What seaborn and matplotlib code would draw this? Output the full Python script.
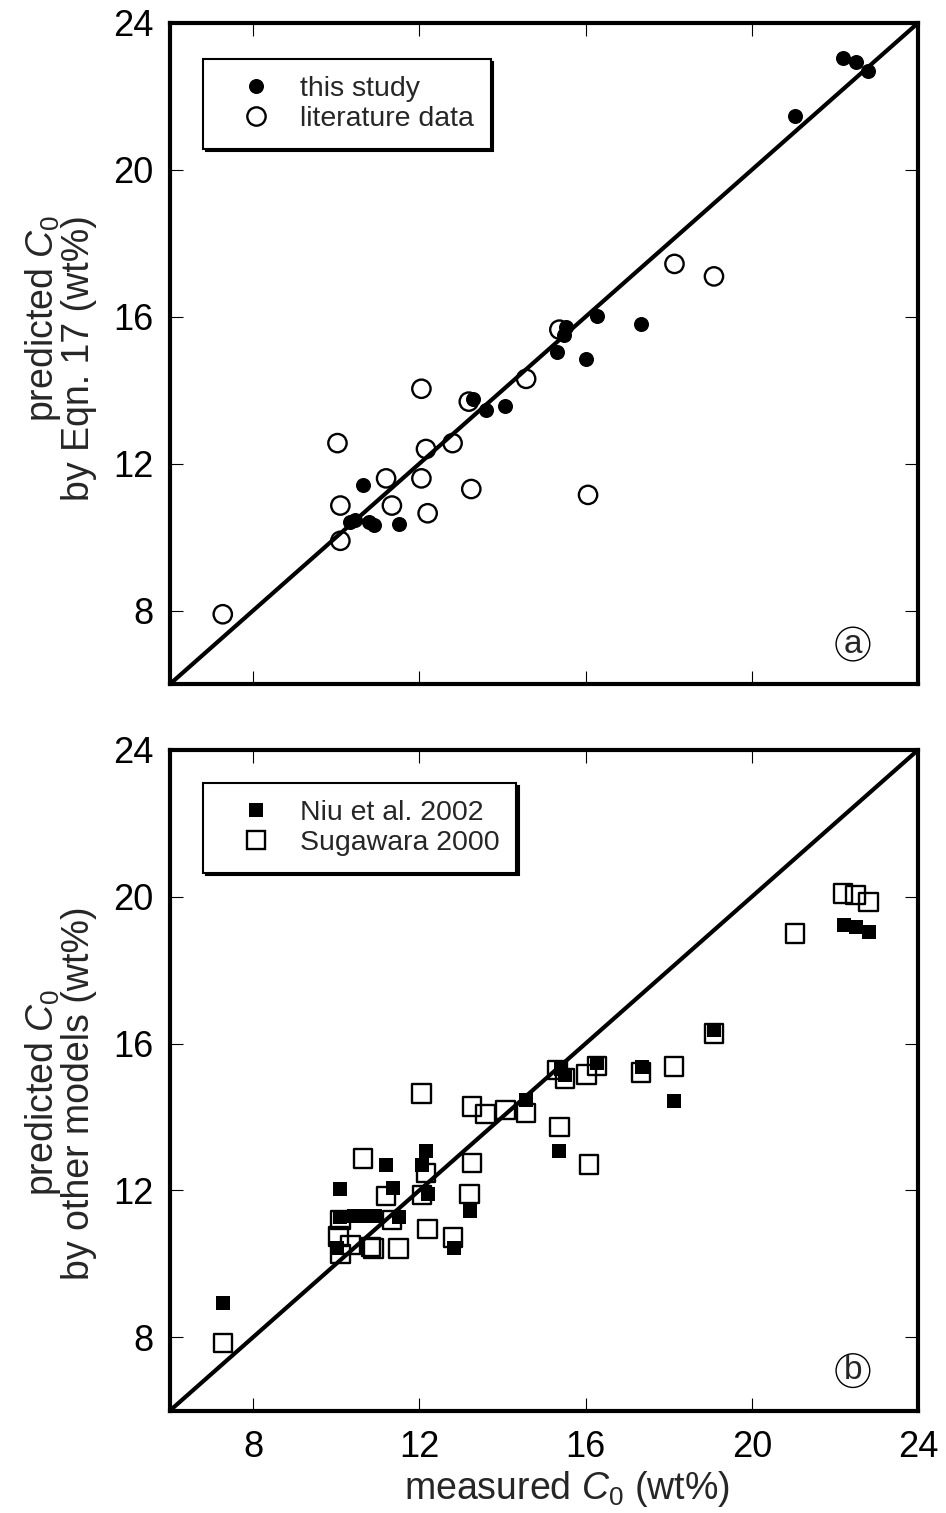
import matplotlib
matplotlib.use("Agg")
import matplotlib.pyplot as plt
from matplotlib.lines import Line2D
import seaborn as sns

# ---- panel (a): predicted C0 by Eqn. 17 vs measured C0 ----
this_x = [22.2, 22.5, 22.8, 21.05, 17.33, 16.27, 16.02, 15.52, 15.49, 15.32,
          13.29, 13.61, 14.07, 10.64, 10.34, 10.46, 10.78, 10.92, 11.5]
this_y = [23.06, 22.95, 22.7, 21.48, 15.8, 16.03, 14.85, 15.73, 15.5, 15.05,
          13.76, 13.47, 13.58, 11.42, 10.4, 10.47, 10.4, 10.33, 10.35]

lit_x = [7.27, 10.1, 10.03, 10.1, 11.2, 11.34, 12.05, 12.05, 12.16, 12.2,
         12.8, 13.19, 13.25, 14.57, 15.37, 16.06, 18.14, 19.09]
lit_y = [7.9, 9.9, 12.56, 10.86, 11.6, 10.86, 14.04, 11.6, 12.4, 10.65,
         12.56, 13.69, 11.31, 14.31, 15.65, 11.15, 17.44, 17.1]

# ---- panel (b): predicted C0 by other models vs measured C0 ----
niu_x = [7.28, 10.1, 11.2, 12.16, 12.06, 11.36, 12.22, 10.1, 10.42, 10.74,
         10.94, 11.5, 10.02, 12.83, 13.21, 14.57, 15.37, 15.4, 15.5, 16.28,
         17.35, 19.09, 18.14, 22.22, 22.5, 22.81]
niu_y = [8.94, 12.05, 12.69, 13.07, 12.69, 12.07, 11.89, 11.28, 11.3, 11.3,
         11.3, 11.28, 10.42, 10.42, 11.44, 14.46, 13.08, 15.3, 15.15, 15.47,
         15.37, 16.37, 14.44, 19.23, 19.17, 19.05]

sug_x = [7.28, 12.05, 10.64, 13.27, 13.59, 14.07, 14.57, 15.37, 16.08, 13.27,
         13.21, 12.16, 11.2, 12.06, 11.34, 10.1, 10.06, 12.2, 12.81, 10.34,
         10.84, 10.9, 11.5, 10.1, 15.32, 15.5, 16.02, 16.28, 17.33, 19.09,
         18.13, 21.04, 22.2, 22.5, 22.81]
sug_y = [7.84, 14.64, 12.87, 14.28, 14.08, 14.19, 14.11, 13.72, 12.71, 12.75,
         11.9, 12.48, 11.85, 11.87, 11.19, 11.19, 10.74, 10.95, 10.72, 10.51,
         10.46, 10.42, 10.42, 10.26, 15.28, 15.05, 15.16, 15.39, 15.21, 16.28,
         15.37, 19.0, 20.09, 20.05, 19.86]

ticks = [8, 12, 16, 20, 24]
tick_labels = ["8", "12", "16", "20", "24"]
lims = [6, 24]

sns.set_style("ticks")
plt.rcParams["font.family"] = ["Liberation Sans", "DejaVu Sans"]
plt.rcParams["mathtext.fontset"] = "custom"
plt.rcParams["mathtext.rm"] = "Liberation Sans"
plt.rcParams["mathtext.it"] = "Liberation Sans:italic"

fig = plt.figure(figsize=(9.46, 15.13), dpi=100)
ax_a = fig.add_axes([0.1797, 0.5479, 0.7907, 0.4369])
ax_b = fig.add_axes([0.1797, 0.0677, 0.7907, 0.4366])

LABEL_SIZE = 27
LEGEND_SIZE = 20.5


def style_axes(ax, show_xlabels):
    ax.set_xlim(lims)
    ax.set_ylim(lims)
    ax.set_xticks(ticks)
    ax.set_yticks(ticks)
    ax.set_yticklabels(tick_labels)
    if show_xlabels:
        ax.set_xticklabels(tick_labels)
    else:
        ax.set_xticklabels([])
    ax.tick_params(direction="in", top=True, right=True, length=9.5,
                   width=0.8, labelsize=26, pad=12, colors="black")
    ax.tick_params(axis="x", pad=14)
    for sp in ax.spines.values():
        sp.set_visible(True)
        sp.set_linewidth(3)
        sp.set_color("black")
    # 1:1 line
    ax.plot(lims, lims, color="black", lw=3, zorder=1, solid_capstyle="butt")


def circled(ax, letter):
    ax.text(0.913, 0.0605, letter, transform=ax.transAxes, ha="center",
            va="center", fontsize=24,
            bbox=dict(boxstyle="circle,pad=0.04", fc="white", ec="black", lw=1))


def framed_legend(ax, handles, labels, top):
    leg = ax.legend(handles, labels, loc="upper left",
                    bbox_to_anchor=(0.044, top), borderaxespad=0,
                    fontsize=LEGEND_SIZE, frameon=True, fancybox=False,
                    shadow={"color": "black", "alpha": 1}, borderpad=0.6,
                    handlelength=2.55, handletextpad=0.25, labelspacing=0.12)
    leg.get_frame().set_edgecolor("black")
    leg.get_frame().set_linewidth(1.5)
    leg.get_frame().set_alpha(1)
    return leg


# panel (a)
style_axes(ax_a, False)
sns.scatterplot(x=lit_x, y=lit_y, ax=ax_a, marker="o", s=174, color="black",
                facecolor="none", edgecolor="black", linewidth=1.7,
                legend=False, zorder=3)
sns.scatterplot(x=this_x, y=this_y, ax=ax_a, marker="o", s=117, color="black",
                edgecolor="black", linewidth=0, legend=False, zorder=4)
ax_a.set_xlabel("")
ax_a.set_ylabel("predicted $\\mathit{C}_\\mathrm{0}$\nby Eqn. 17 (wt%)",
                fontsize=LABEL_SIZE, multialignment="right", linespacing=0.92)
ax_a.yaxis.set_label_coords(-0.098, 0.493)
handles_a = [
    Line2D([], [], ls="none", marker="o", ms=10.8, mfc="black", mec="black", mew=0),
    Line2D([], [], ls="none", marker="o", ms=13.2, mfc="none", mec="black", mew=1.7),
]
framed_legend(ax_a, handles_a, ["this study", "literature data"], 0.9455)
circled(ax_a, "a")

# panel (b)
style_axes(ax_b, True)
sns.scatterplot(x=sug_x, y=sug_y, ax=ax_b, marker="s", s=177, color="black",
                facecolor="none", edgecolor="black", linewidth=1.7,
                legend=False, zorder=3)
sns.scatterplot(x=niu_x, y=niu_y, ax=ax_b, marker="s", s=106, color="black",
                edgecolor="black", linewidth=0, legend=False, zorder=4)
ax_b.set_xlabel("measured $\\mathit{C}_\\mathrm{0}$ (wt%)", fontsize=LABEL_SIZE)
ax_b.xaxis.set_label_coords(0.531, -0.088)
ax_b.set_ylabel("predicted $\\mathit{C}_\\mathrm{0}$\nby other models (wt%)",
                fontsize=LABEL_SIZE, multialignment="center", linespacing=0.92)
ax_b.yaxis.set_label_coords(-0.098, 0.481)
handles_b = [
    Line2D([], [], ls="none", marker="s", ms=10.3, mfc="black", mec="black", mew=0),
    Line2D([], [], ls="none", marker="s", ms=13.3, mfc="none", mec="black", mew=1.7),
]
framed_legend(ax_b, handles_b, ["Niu et al. 2002", "Sugawara 2000"], 0.95)
circled(ax_b, "b")

fig.savefig("out.png", dpi=100, facecolor="white")
